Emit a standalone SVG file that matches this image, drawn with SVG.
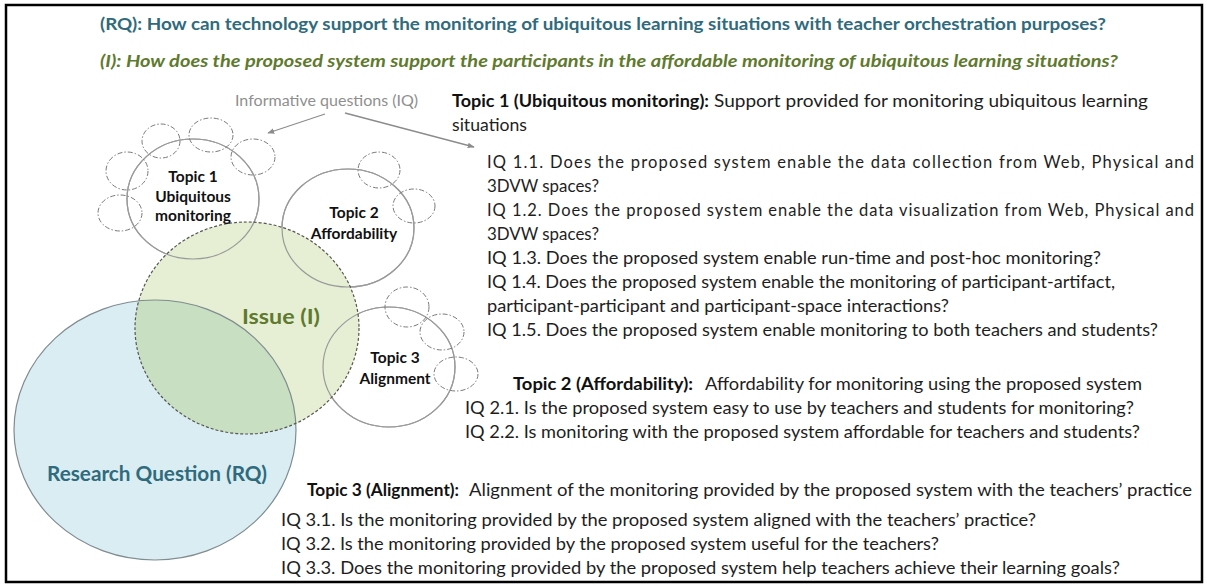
<svg xmlns="http://www.w3.org/2000/svg" width="1207" height="586" viewBox="0 0 1207 586">
<style>
text { font-family: Lato, "Liberation Sans", sans-serif; }
.t { font-size: 16.5px; fill: #1e1e1e; }
.b { font-size: 16.5px; font-weight: 700; fill: #111; }
.lbl { font-size: 15.5px; font-weight: 700; fill: #111; text-anchor: middle; }
.topic { fill: #ffffff; stroke: #9a9a9a; stroke-width: 1.2; }
.sub { fill: none; stroke: #7a7a7a; stroke-width: 1; stroke-dasharray: 5 2 1.5 2; }
.conn { stroke: #8c8c8c; stroke-width: 1.3; fill: none; marker-end: url(#ah); }
</style>
<defs>
<marker id="ah" viewBox="0 0 10 10" refX="9" refY="5" markerWidth="7" markerHeight="7" orient="auto" markerUnits="userSpaceOnUse">
<path d="M0,1 L10,5 L0,9 Z" fill="#8c8c8c"/>
</marker>
<clipPath id="rqClip"><ellipse cx="155" cy="430" rx="141" ry="130"/></clipPath>
</defs>
<rect x="0" y="0" width="1207" height="586" fill="#ffffff"/>
<rect x="6" y="5" width="1196" height="577" fill="none" stroke="#000" stroke-width="2.5"/>

<g id="headers">
<text x="100" y="30" textLength="1006" lengthAdjust="spacingAndGlyphs" style="font-size:17px;font-weight:700;fill:#2f6b7c">(RQ): How can technology support the monitoring of ubiquitous learning situations with teacher orchestration purposes?</text>
<text x="100" y="67" textLength="1018" lengthAdjust="spacingAndGlyphs" style="font-size:17px;font-weight:700;font-style:italic;fill:#5f7a2e">(I): How does the proposed system support the participants in the affordable monitoring of ubiquitous learning situations?</text>
</g>

<g id="rq-fill"><ellipse cx="155" cy="430" rx="141" ry="130" fill="#daedf3"/></g>

<g id="topic1"><ellipse class="topic" cx="193" cy="199" rx="66" ry="60"/></g>
<g id="topic2"><ellipse class="topic" cx="348" cy="228" rx="66" ry="59"/></g>
<g id="topic3"><ellipse class="topic" cx="389" cy="367" rx="66" ry="60"/></g>

<g id="issue">
<ellipse cx="247" cy="328" rx="112" ry="106" fill="#e6efd4"/>
<ellipse cx="247" cy="328" rx="112" ry="106" fill="#c8dfc2" clip-path="url(#rqClip)"/>
</g>

<g id="rq">
<ellipse cx="155" cy="430" rx="141" ry="130" fill="none" stroke="#7f8c90" stroke-width="1.2"/>
<text x="157" y="481" textLength="220" lengthAdjust="spacingAndGlyphs" text-anchor="middle" style="font-size:21px;font-weight:700;fill:#2f6b7c">Research Question (RQ)</text>
</g>

<g id="topic-outlines">
<ellipse cx="193" cy="199" rx="66" ry="60" fill="none" stroke="#9a9a9a" stroke-width="1.2"/>
<ellipse cx="348" cy="228" rx="66" ry="59" fill="none" stroke="#9a9a9a" stroke-width="1.2"/>
<ellipse cx="389" cy="367" rx="66" ry="60" fill="none" stroke="#9a9a9a" stroke-width="1.2"/>
</g>

<g id="iq-circles">
<ellipse class="sub" cx="161" cy="141" rx="19" ry="17"/>
<ellipse class="sub" cx="211" cy="135" rx="22" ry="17"/>
<ellipse class="sub" cx="253" cy="157" rx="22" ry="18"/>
<ellipse class="sub" cx="127" cy="171" rx="21" ry="19"/>
<ellipse class="sub" cx="120" cy="213" rx="22" ry="18"/>
<ellipse class="sub" cx="379" cy="170" rx="21" ry="18"/>
<ellipse class="sub" cx="414" cy="206" rx="21" ry="17"/>
<ellipse class="sub" cx="407" cy="307" rx="22" ry="20"/>
<ellipse class="sub" cx="442" cy="332" rx="22" ry="18"/>
<ellipse class="sub" cx="456" cy="374" rx="22" ry="17"/>
</g>

<g id="issue-outline">
<ellipse cx="247" cy="328" rx="112" ry="106" fill="none" stroke="#555" stroke-width="1.2" stroke-dasharray="3 2"/>
<text x="281" y="324" textLength="78" lengthAdjust="spacingAndGlyphs" text-anchor="middle" style="font-size:21px;font-weight:700;fill:#5f7a2e">Issue (I)</text>
</g>

<g id="topic-labels">
<text class="lbl" x="193" y="182">Topic 1</text>
<text class="lbl" x="193" y="202">Ubiquitous</text>
<text class="lbl" x="193" y="221">monitoring</text>
<text class="lbl" x="354" y="218">Topic 2</text>
<text class="lbl" x="354" y="239">Affordability</text>
<text class="lbl" x="395" y="363">Topic 3</text>
<text class="lbl" x="395" y="384">Alignment</text>
</g>

<g id="iq-label">
<text x="235" y="106" textLength="183" lengthAdjust="spacingAndGlyphs" style="font-size:14.5px;fill:#8f8f8f">Informative questions (IQ)</text>
</g>

<g id="connectors">
<line class="conn" x1="325" y1="114" x2="268" y2="133"/>
<line class="conn" x1="345" y1="113" x2="474" y2="147"/>
</g>

<g id="topic1-text">
<text class="b" x="452" y="107" textLength="257" lengthAdjust="spacingAndGlyphs">Topic 1 (Ubiquitous monitoring):</text>
<text class="t" x="714" y="107" textLength="434" lengthAdjust="spacingAndGlyphs">Support provided  for monitoring ubiquitous learning</text>
<text class="t" x="452" y="131" textLength="75" lengthAdjust="spacingAndGlyphs">situations</text>
<text class="t" x="487" y="168" textLength="707" lengthAdjust="spacing">IQ 1.1. Does the proposed system enable the data collection from Web, Physical and</text>
<text class="t" x="487" y="192" textLength="112" lengthAdjust="spacingAndGlyphs">3DVW spaces?</text>
<text class="t" x="487" y="216" textLength="707" lengthAdjust="spacing">IQ 1.2. Does the proposed system enable the data visualization from Web, Physical and</text>
<text class="t" x="487" y="240" textLength="112" lengthAdjust="spacingAndGlyphs">3DVW spaces?</text>
<text class="t" x="487" y="264" textLength="614" lengthAdjust="spacingAndGlyphs">IQ 1.3. Does the proposed system enable run-time and post-hoc monitoring?</text>
<text class="t" x="487" y="288" textLength="628" lengthAdjust="spacingAndGlyphs">IQ 1.4. Does the proposed system enable the monitoring of participant-artifact,</text>
<text class="t" x="487" y="312" textLength="462" lengthAdjust="spacingAndGlyphs">participant-participant and participant-space interactions?</text>
<text class="t" x="487" y="336" textLength="671" lengthAdjust="spacingAndGlyphs">IQ 1.5. Does the proposed system enable monitoring to both teachers and students?</text>
</g>

<g id="topic2-text">
<text class="b" x="513" y="390" textLength="180" lengthAdjust="spacingAndGlyphs">Topic 2 (Affordability):</text>
<text class="t" x="705" y="390" textLength="437" lengthAdjust="spacingAndGlyphs">Affordability for monitoring using the proposed system</text>
<text class="t" x="465" y="414" textLength="669" lengthAdjust="spacingAndGlyphs">IQ 2.1. Is the proposed system easy to use by teachers and students for monitoring?</text>
<text class="t" x="465" y="438" textLength="675" lengthAdjust="spacingAndGlyphs">IQ 2.2. Is monitoring with the proposed system affordable for teachers and students?</text>
</g>

<g id="topic3-text">
<text class="b" x="307" y="496" textLength="152" lengthAdjust="spacingAndGlyphs">Topic 3 (Alignment):</text>
<text class="t" x="469" y="496" textLength="723" lengthAdjust="spacingAndGlyphs">Alignment of the monitoring provided by the proposed system with the teachers’ practice</text>
<text class="t" x="281" y="526" textLength="755" lengthAdjust="spacingAndGlyphs">IQ 3.1. Is the monitoring provided by the proposed system aligned with the teachers’ practice?</text>
<text class="t" x="281" y="550" textLength="658" lengthAdjust="spacingAndGlyphs">IQ 3.2. Is the monitoring provided by the proposed system useful for the teachers?</text>
<text class="t" x="281" y="574" textLength="839" lengthAdjust="spacingAndGlyphs">IQ 3.3. Does the monitoring provided by the proposed system help teachers achieve their learning goals?</text>
</g>
</svg>
